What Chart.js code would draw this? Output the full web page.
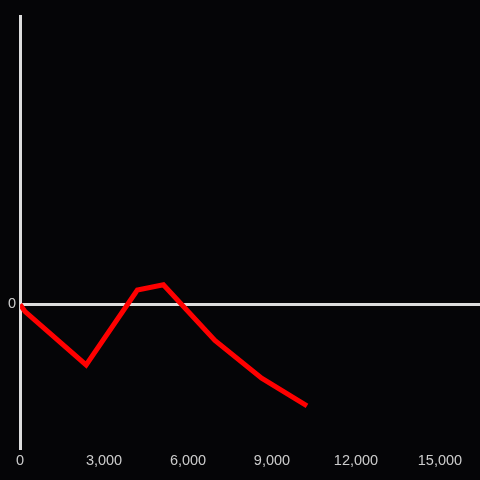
<!DOCTYPE html>
<html>
<head>
<meta charset="utf-8">
<script src="https://cdn.jsdelivr.net/npm/chart.js@4"></script>
<style>
  html, body { margin: 0; padding: 0; background: #050507; }
  #wrap { width: 480px; height: 480px; }
</style>
</head>
<body>
<div id="wrap"><canvas id="myChart" width="480" height="480"></canvas></div>
<script>
// Datos
var xValores = [0, 180, 2360, 4190, 5120, 6960, 8630, 10250];
var yValores = [0, -0.025, -0.21, 0.05, 0.068, -0.125, -0.256, -0.352];
var xTicks = [0, 3000, 6000, 9000, 12000, 15000];
var yTicks = [0];

var puntos = xValores.map(function (x, i) { return { x: x, y: yValores[i] }; });

var ctx = document.getElementById('myChart').getContext('2d');
var myChart = new Chart(ctx, {
    type: 'line',
    data: {
        datasets: [{
            data: puntos,
            borderColor: '#ff0000',
            borderWidth: 5,
            borderJoinStyle: 'miter',
            pointRadius: 0,
            tension: 0,
            fill: false
        }]
    },
    options: {
        responsive: false,
        animation: false,
        layout: { padding: { top: 16, left: 4, right: 0, bottom: 6 } },
        plugins: { legend: { display: false }, tooltip: { enabled: false } },
        scales: {
            x: {
                type: 'linear',
                min: 0,
                max: 16430,
                afterBuildTicks: function (axis) {
                    axis.ticks = xTicks.map(function (v) { return { value: v }; });
                },
                grid: { display: false, drawTicks: false },
                border: { display: false },
                ticks: {
                    color: '#cccccc',
                    padding: 4,
                    maxRotation: 0,
                    autoSkip: false,
                    font: { family: 'Liberation Sans', size: 14.5 },
                    callback: function (v) { return v.toLocaleString('en-US'); }
                }
            },
            y: {
                type: 'linear',
                min: -0.5,
                max: 1,
                afterBuildTicks: function (axis) {
                    axis.ticks = yTicks.map(function (v) { return { value: v }; });
                },
                grid: {
                    drawTicks: false,
                    color: '#dddddd',
                    lineWidth: 3
                },
                border: { display: true, color: '#dddddd', width: 3 },
                ticks: {
                    color: '#cccccc',
                    padding: 4,
                    font: { family: 'Liberation Sans', size: 14.5 }
                }
            }
        }
    }
});
</script>
</body>
</html>
